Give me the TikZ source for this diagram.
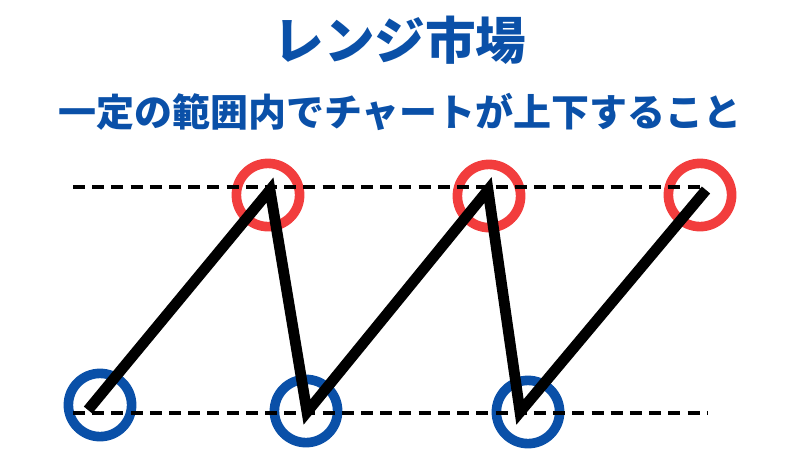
\documentclass[tikz,border=0pt]{standalone}
\usepackage{fontspec}
\setmainfont{Noto Sans CJK JP}
\usetikzlibrary{positioning}
\definecolor{rangeblue}{HTML}{0A50A8}
\definecolor{peakred}{HTML}{F23D3D}

\begin{document}
\begin{tikzpicture}[
  x=0.025cm, y=0.025cm,
  heading/.style={font=\fontsize{36}{42}\selectfont\bfseries, text=rangeblue, inner sep=0pt},
  subheading/.style={font=\fontsize{27}{32}\selectfont\bfseries, text=rangeblue, inner sep=0pt},
  ring/.style={draw, circle, line width=0.24cm, minimum size=1.58cm, inner sep=0pt},
  bound/.style={line width=0.09cm, dash pattern=on 0.3cm off 0.18cm},
  price/.style={line width=0.27cm}
]
  \useasboundingbox (0,0) rectangle (800,450);

  \node[heading] (title) at (400,410) {レンジ市場};
  \node[subheading] (subtitle) at (400,338) {一定の範囲内でチャートが上下すること};

  % highs and lows
  \node[ring, peakred] (hi1) at (268,255) {};
  \node[ring, peakred] (hi2) at (489,254) {};
  \node[ring, peakred] (hi3) at (700,255) {};
  \node[ring, rangeblue] (lo1) at (100,45) {};
  \node[ring, rangeblue] (lo2) at (306,39) {};
  \node[ring, rangeblue] (lo3) at (528,38) {};

  % range bounds
  \coordinate (topL) at (73,263);
  \coordinate (topR) at (706,263);
  \coordinate (botL) at (73,37);
  \coordinate (botR) at (707,37);
  \draw[bound] (topL) -- (topR);
  \draw[bound] (botL) -- (botR);

  % chart
  \coordinate (p0) at (88,40);
  \coordinate (p1) at (270,260);
  \coordinate (p2) at (307,38);
  \coordinate (p3) at (488,260);
  \coordinate (p4) at (520,38);
  \coordinate (p5) at (706,260);
  \draw[price] (p0) -- (p1) -- (p2) -- (p3) -- (p4) -- (p5);
\end{tikzpicture}
\end{document}
